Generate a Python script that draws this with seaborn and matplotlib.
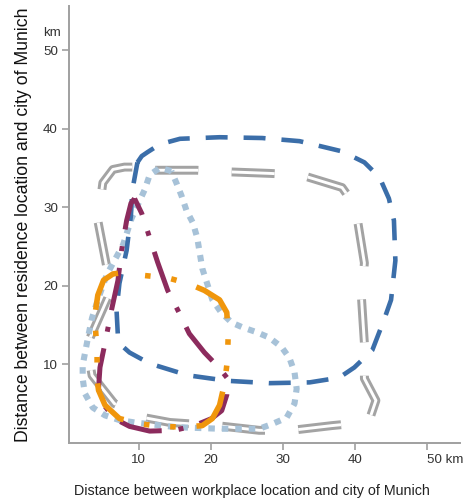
import matplotlib
matplotlib.use("Agg")
import matplotlib.pyplot as plt
import seaborn as sns
import pandas as pd

# curves (km, km)
gray_x = [10.4, 12.2, 18.0, 22.3, 28.1, 32.5, 38.2, 39.9, 40.3, 41.3, 40.9, 41.3, 41.3,
          42.9, 42.2, 41.3, 36.8, 31.2, 26.7, 20.8, 14.3, 10.8, 6.6, 3.5, 2.9, 3.2,
          5.7, 5.5, 4.3, 5.0, 6.4, 8.0, 10.4]
gray_y = [35.1, 34.7, 34.7, 34.5, 34.3, 34.1, 32.5, 30.3, 28.6, 22.9, 18.4, 12.7, 8.2,
          5.4, 3.5, 2.6, 2.2, 1.6, 1.6, 2.2, 2.6, 3.2, 5.0, 8.6, 11.8, 13.3,
          18.5, 22.6, 28.3, 33.1, 34.8, 35.1, 35.1]

lightblue_x = [14.5, 12.9, 11.5, 10.8, 9.0, 7.8, 6.6, 5.5, 4.3, 3.5, 3.0, 2.6, 2.2, 2.2,
               2.5, 3.6, 5.3, 7.3, 9.4, 15.2, 21.2, 24.9, 26.7, 28.5, 30.5, 31.6, 31.9,
               31.6, 30.9, 29.8, 28.1, 26.3, 24.4, 22.9, 21.5, 20.2, 19.4, 18.8, 18.1,
               17.5, 16.6, 15.9, 15.2, 14.5]
lightblue_y = [34.6, 35.0, 34.1, 32.2, 28.6, 25.2, 23.2, 21.3, 18.2, 15.9, 13.7, 11.8, 9.9,
               8.2, 6.3, 4.5, 3.5, 2.9, 2.6, 2.0, 1.8, 1.8, 1.8, 2.4, 3.2, 5.0, 6.9,
               9.0, 10.8, 12.2, 13.4, 14.1, 14.7, 15.3, 16.5, 18.2, 20.5, 22.2, 26.1,
               28.0, 29.6, 31.5, 33.1, 34.6]

blue_x = [9.8, 10.4, 11.2, 12.9, 15.7, 21.2, 27.1, 32.3, 38.2, 41.3, 43.4, 44.7, 45.4, 45.6,
          45.0, 44.0, 42.4, 39.9, 37.8, 33.7, 28.1, 22.3, 16.8, 11.5, 8.7, 7.6, 7.1, 6.9,
          7.3, 8.3, 8.9, 9.1, 9.8]
blue_y = [35.7, 36.5, 37.0, 38.0, 38.7, 38.9, 38.8, 38.4, 37.1, 35.7, 33.8, 31.1, 28.3, 23.2,
          18.2, 15.6, 11.8, 9.6, 8.3, 7.7, 7.6, 7.9, 8.6, 10.1, 11.5, 12.4, 13.4, 16.9,
          20.3, 24.5, 29.0, 32.2, 35.7]

purple_x = [9.4, 10.4, 11.5, 12.6, 14.0, 15.4, 17.0, 19.1, 21.2, 22.3, 22.2, 21.5, 20.1,
            17.7, 15.0, 11.5, 8.7, 6.6, 5.0, 4.4, 4.6, 5.3, 6.2, 7.1, 7.6, 8.3, 8.9, 9.4]
purple_y = [31.1, 29.2, 26.1, 23.0, 19.4, 16.9, 13.9, 11.5, 9.5, 8.2, 6.1, 4.1, 3.1,
            2.2, 1.6, 1.5, 2.1, 3.1, 5.0, 6.9, 9.6, 12.7, 16.9, 20.7, 24.5, 28.3, 30.5, 31.1]

orange_x = [8.0, 10.8, 14.0, 16.8, 19.1, 21.2, 22.2, 22.4, 22.3, 21.9, 21.2, 20.2, 18.8,
            16.3, 13.2, 10.4, 7.3, 5.3, 4.4, 4.2, 4.2, 4.0, 4.0, 4.3, 5.1, 6.4, 8.0]
orange_y = [21.7, 21.3, 21.0, 20.3, 19.4, 18.2, 16.6, 13.9, 10.6, 7.6, 4.8, 3.1, 2.2,
            2.0, 2.1, 2.4, 3.1, 4.8, 6.7, 8.1, 11.4, 14.3, 16.9, 18.8, 20.7, 21.5, 21.7]

x_ticks = [10, 20, 30, 40, 50]
y_ticks = [10, 20, 30, 40, 50]

sns.set_theme(style="white")
plt.rcParams['font.family'] = ['Liberation Sans', 'DejaVu Sans']
plt.rcParams['lines.scale_dashes'] = False
plt.rcParams['lines.dash_capstyle'] = 'butt'

fig = plt.figure(figsize=(4.63, 5.01), dpi=100)
ax = fig.add_axes([0.149, 0.116, 0.845, 0.872])


def draw(xs, ys, **kw):
    df = pd.DataFrame({'x': xs, 'y': ys})
    sns.lineplot(data=df, x='x', y='y', sort=False, estimator=None, ax=ax, **kw)


# gray double line: wide gray stroke with a white stroke inside
gray_dash = (45, (31, 24))
draw(gray_x, gray_y, color='#a3a3a3', linewidth=6.4, linestyle=gray_dash, zorder=1)
draw(gray_x, gray_y, color='white', linewidth=2.1, linestyle=gray_dash, zorder=1.1)

draw(lightblue_x, lightblue_y, color='#a7c2d8', linewidth=4.4,
     linestyle=(0, (4.7, 5.0)), zorder=2)
draw(blue_x, blue_y, color='#3b6ea9', linewidth=3.3,
     linestyle=(0, (15.8, 11.5)), zorder=3)
draw(purple_x, purple_y, color='#8c2b5d', linewidth=3.6,
     linestyle=(18, (31, 12.2, 3.6, 12.2)), zorder=4)
draw(orange_x, orange_y, color='#f0960c', linewidth=4.0,
     linestyle=(34, (34, 15, 4, 15, 4, 15)), zorder=5)

ax.set_xlim(0.3, 54.6)
ax.set_ylim(0, 55.6)
ax.set_xticks(x_ticks)
ax.set_yticks(y_ticks)
ax.set_xticklabels([str(t) if t != 50 else '50 km' for t in x_ticks])
ax.get_xticklabels()[-1].set_horizontalalignment('left')

for side in ['top', 'right']:
    ax.spines[side].set_visible(False)
for side in ['left', 'bottom']:
    ax.spines[side].set_color('#a0a0a0')
    ax.spines[side].set_linewidth(1.4)
ax.tick_params(axis='both', direction='out', length=5, width=1.2, color='#a0a0a0',
               labelsize=9.6, labelcolor='#333333', pad=3)
ax.tick_params(axis='x', bottom=True)
ax.tick_params(axis='y', left=True)

ax.set_xlabel('Distance between workplace location and city of Munich',
              fontsize=10.3, color='#222222')
ax.set_ylabel('Distance between residence location and city of Munich',
              fontsize=12.7, color='#111111')
ax.yaxis.set_label_coords(-0.095, 0.5)
ax.xaxis.set_label_coords(0.468, -0.095)
fig.text(52 / 463, 1 - 33 / 501, 'km', ha='center', va='center',
         fontsize=9.6, color='#333333')

fig.savefig('out.png', dpi=100)
